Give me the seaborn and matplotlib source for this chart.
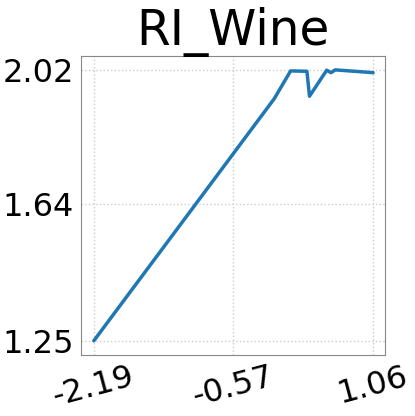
import numpy as np
import pandas as pd
import matplotlib
matplotlib.use('Agg')
import matplotlib.pyplot as plt
import seaborn as sns

# valores
x_vals = [-2.19, -0.09, 0.10, 0.29, 0.32, 0.52, 0.57, 0.62, 1.06]
y_vals = [1.25, 1.939, 2.018, 2.017, 1.946, 2.020, 2.013, 2.021, 2.013]
x_ticks = [-2.19, -0.57, 1.06]
y_ticks = [1.25, 1.64, 2.02]

df = pd.DataFrame({'x': x_vals, 'y': y_vals})

sns.set_style('white')
plt.rcParams['text.color'] = 'black'
fig, ax = plt.subplots(figsize=(4.15, 4.16), dpi=100)
sns.lineplot(data=df, x='x', y='y', color='#1f77b4', linewidth=2.5, ax=ax, sort=False)

ax.set_title('RI_Wine', fontsize=35, color='black', pad=8)
ax.set_xlabel('')
ax.set_ylabel('')
ax.set_xticks(x_ticks)
ax.set_xticklabels(['-2.19', '-0.57', '1.06'], rotation=15, fontsize=23)
ax.set_yticks(y_ticks)
ax.set_yticklabels(['1.25', '1.64', '2.02'], fontsize=23)
ax.set_xlim(-2.34, 1.20)
ax.set_ylim(1.21, 2.06)
ax.grid(True, linestyle=':', color='#cccccc', linewidth=1)
ax.tick_params(axis='both', length=3, pad=2, color='#888888', labelcolor='black')
for s in ax.spines.values():
    s.set_color('#888888')

fig.subplots_adjust(left=0.195, right=0.928, top=0.865, bottom=0.147)
fig.savefig('out.png', dpi=100)
